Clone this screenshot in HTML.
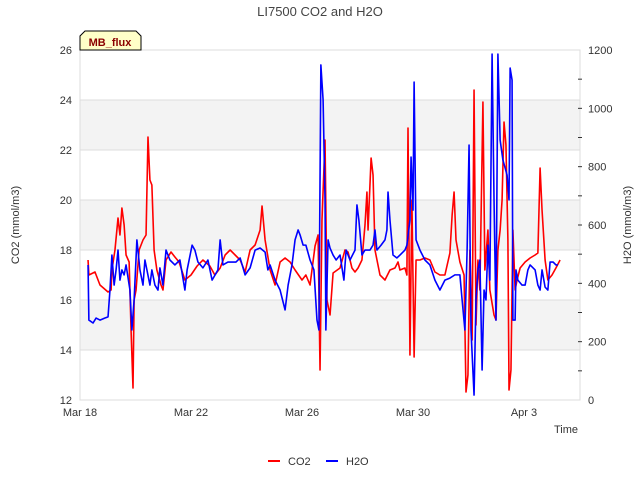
<!DOCTYPE html>
<html><head><meta charset="utf-8"><style>
body{margin:0;background:#fff;font-family:"Liberation Sans",sans-serif}
svg text{font-family:"Liberation Sans",sans-serif}
</style></head><body>
<svg id="c" width="640" height="480">
<text x="320" y="16" text-anchor="middle" font-size="13" fill="#444">LI7500 CO2 and H2O</text>
<g id="bands"></g><g id="grid"></g>
<rect x="80" y="50" width="500" height="350" fill="none" stroke="#ddd"/>
<g id="axes"></g><g id="series"></g>
<g>
<path d="M80,50 L80,36 L85,31 L136,31 L141,36 L141,50 Z" fill="#ffffc8" stroke="#000"/>
<text x="110" y="46" text-anchor="middle" font-size="11" font-weight="bold" fill="#8b0000">MB_flux</text></g>
<text transform="translate(19,225) rotate(-90)" text-anchor="middle" font-size="11" fill="#333">CO2 (mmol/m3)</text>
<text transform="translate(631,225) rotate(-90)" text-anchor="middle" font-size="11" fill="#333">H2O (mmol/m3)</text>
<text x="578" y="433" text-anchor="end" font-size="11" fill="#333">Time</text>
<g>
<g><line x1="268" y1="461" x2="280" y2="461" stroke="red" stroke-width="2"/><text x="288" y="465" font-size="11" fill="#333">CO2</text></g>
<g><line x1="326" y1="461" x2="338" y2="461" stroke="blue" stroke-width="2"/><text x="346" y="465" font-size="11" fill="#333">H2O</text></g>
</g>
</svg>
<script>
const co2Days=[0.29,0.32,0.54,0.72,1.01,1.12,1.15,1.26,1.37,1.44,1.51,1.59,1.66,1.77,1.84,1.91,1.95,2.02,2.13,2.27,2.38,2.45,2.52,2.59,2.67,2.77,2.92,2.99,3.10,3.28,3.42,3.57,3.78,4.00,4.22,4.43,4.68,4.86,5.05,5.23,5.41,5.59,5.77,5.95,6.13,6.31,6.49,6.56,6.67,6.85,7.03,7.21,7.39,7.57,7.75,8.00,8.14,8.29,8.47,8.58,8.65,8.72,8.83,8.90,9.01,9.12,9.37,9.55,9.66,9.80,9.91,10.02,10.16,10.27,10.34,10.38,10.49,10.56,10.63,10.81,10.99,11.17,11.35,11.46,11.53,11.71,11.78,11.82,11.89,11.96,12.04,12.11,12.25,12.43,12.61,12.79,12.97,13.15,13.33,13.41,13.48,13.55,13.69,13.84,13.91,13.98,14.05,14.13,14.20,14.27,14.34,14.41,14.52,14.59,14.70,14.77,14.92,14.99,15.06,15.14,15.21,15.28,15.35,15.42,15.46,15.53,15.60,15.68,15.75,15.86,16.04,16.22,16.40,16.50,16.58,16.65,16.76,16.86,17.01,17.15,17.30];
const co2Values=[17.6,17.0,17.12,16.6,16.32,16.4,17.2,18.0,19.28,18.6,19.68,19.0,17.8,17.52,14.8,12.48,16.0,16.4,18.0,18.4,18.6,22.52,20.8,20.6,18.0,17.2,16.6,16.4,17.6,17.92,17.72,17.52,16.8,17.0,17.36,17.6,17.36,17.0,17.28,17.8,18.0,17.8,17.6,17.12,18.0,18.2,18.8,19.76,18.4,17.2,16.6,17.52,17.68,17.52,17.2,16.8,17.0,16.6,18.16,18.6,13.2,19.2,22.4,16.0,15.4,17.08,17.28,18.0,17.92,17.28,17.12,17.28,17.6,19.0,20.32,18.8,21.68,21.0,18.0,17.0,16.8,17.2,17.28,17.52,17.2,17.28,17.0,22.88,13.8,20.0,13.72,17.6,17.6,17.68,17.6,17.12,17.0,17.0,17.88,19.4,20.32,18.4,17.52,17.0,12.32,13.0,18.0,14.4,24.4,15.0,17.6,16.4,23.92,17.2,18.8,16.4,15.4,15.2,18.0,18.8,20.0,23.12,22.2,18.4,12.4,13.2,18.8,16.4,16.8,17.28,17.52,17.68,17.8,17.88,21.28,19.6,17.6,16.8,17.0,17.28,17.6];
const h2oDays=[0.29,0.32,0.47,0.58,0.72,0.90,1.01,1.08,1.15,1.23,1.30,1.37,1.44,1.51,1.59,1.66,1.80,1.87,1.95,2.05,2.16,2.27,2.34,2.52,2.59,2.70,2.81,2.88,2.99,3.10,3.24,3.42,3.60,3.78,3.86,4.04,4.14,4.25,4.43,4.61,4.76,4.97,5.05,5.15,5.33,5.62,5.77,5.95,6.13,6.31,6.49,6.67,6.77,6.85,7.03,7.21,7.39,7.50,7.64,7.75,7.86,7.93,8.04,8.14,8.29,8.43,8.54,8.61,8.68,8.76,8.83,8.86,8.94,9.01,9.12,9.23,9.37,9.51,9.59,9.73,9.91,9.98,10.05,10.16,10.27,10.45,10.56,10.63,10.70,10.85,10.99,11.06,11.10,11.17,11.28,11.42,11.53,11.71,11.78,11.89,11.93,12.00,12.04,12.11,12.25,12.43,12.61,12.79,12.97,13.15,13.33,13.51,13.69,13.77,13.87,13.95,14.02,14.09,14.20,14.27,14.34,14.41,14.49,14.56,14.63,14.70,14.77,14.85,14.92,14.99,15.06,15.14,15.24,15.39,15.46,15.50,15.57,15.60,15.68,15.71,15.78,15.93,16.04,16.14,16.22,16.40,16.50,16.58,16.65,16.76,16.86,16.94,17.05,17.15,17.22];
const h2oValues=[463,274,264,281,274,281,285,377,497,394,446,514,411,446,429,463,377,240,343,549,446,394,480,394,446,394,377,453,394,514,480,463,480,377,446,531,514,473,453,480,411,446,549,463,473,473,487,429,453,514,521,507,446,463,411,377,309,394,463,549,583,566,531,531,480,446,274,240,1149,1029,686,240,549,521,497,480,497,411,514,480,514,669,617,497,514,514,531,583,514,531,549,583,713,617,497,487,497,514,531,617,833,651,1090,549,514,480,463,411,377,411,418,429,429,343,240,514,874,240,17,343,446,480,103,377,343,531,411,1186,686,274,1186,891,823,771,686,1138,1097,274,274,446,411,394,394,446,463,446,394,377,446,387,377,473,473,463,463];
const xTickDays=[0,4,8,12,16];
const xTickLabels=["Mar 18","Mar 22","Mar 26","Mar 30","Apr 3"];
const co2Ticks=[12,14,16,18,20,22,24,26];
const h2oTicks=[0,200,400,600,800,1000,1200];
const X0=80,X1=580,Y0=400,Y1=50,DAYPX=27.75;
const xs=d=>X0+d*DAYPX;
const yL=v=>Y0-(v-12)/(26-12)*(Y0-Y1);
const yR=v=>Y0-v/1200*(Y0-Y1);
const NS="http://www.w3.org/2000/svg";
function mk(tag,attrs,parent){const e=document.createElementNS(NS,tag);for(const k in attrs)e.setAttribute(k,attrs[k]);document.getElementById(parent).appendChild(e);return e;}
for(let i=0;i<co2Ticks.length-1;i++){
 const y=yL(co2Ticks[i]);
 if(i%2===1){const r=mk('rect',{x:X0,y:yL(co2Ticks[i+1]),width:X1-X0,height:y-yL(co2Ticks[i+1]),fill:'#f3f3f3'},'bands');
 
 }
}
co2Ticks.forEach(v=>{const y=yL(v);
 const g=mk('line',{x1:X0,x2:X1,y1:y,y2:y,stroke:'#ddd'},'grid');
 
 
 const t=mk('text',{x:X0-8,y:y+4,'text-anchor':'end','font-size':11,fill:'#333'},'axes');t.textContent=v;
 
 });
h2oTicks.forEach(v=>{const y=yR(v);
 const t=mk('text',{x:X1+8,y:y+4,'font-size':11,fill:'#333'},'axes');t.textContent=v;
 
 });
for(let v=100;v<1200;v+=100){const y=yR(v);
 const l=mk('line',{x1:X1-2,x2:X1+2,y1:y,y2:y,stroke:'#333'},'axes');
 
 }
xTickDays.forEach((d,i)=>{const x=xs(d);
 const t=mk('text',{x:x,y:416,'text-anchor':'middle','font-size':11,fill:'#333'},'axes');t.textContent=xTickLabels[i];
 
 });
const pC=mk('polyline',{points:co2Days.map((d,i)=>xs(d)+','+yL(co2Values[i])).join(' '),fill:'none',stroke:'red','stroke-width':1.6,'stroke-linejoin':'round'},'series');


const pH=mk('polyline',{points:h2oDays.map((d,i)=>xs(d)+','+yR(h2oValues[i])).join(' '),fill:'none',stroke:'blue','stroke-width':1.6,'stroke-linejoin':'round'},'series');


</script>
</body></html>
